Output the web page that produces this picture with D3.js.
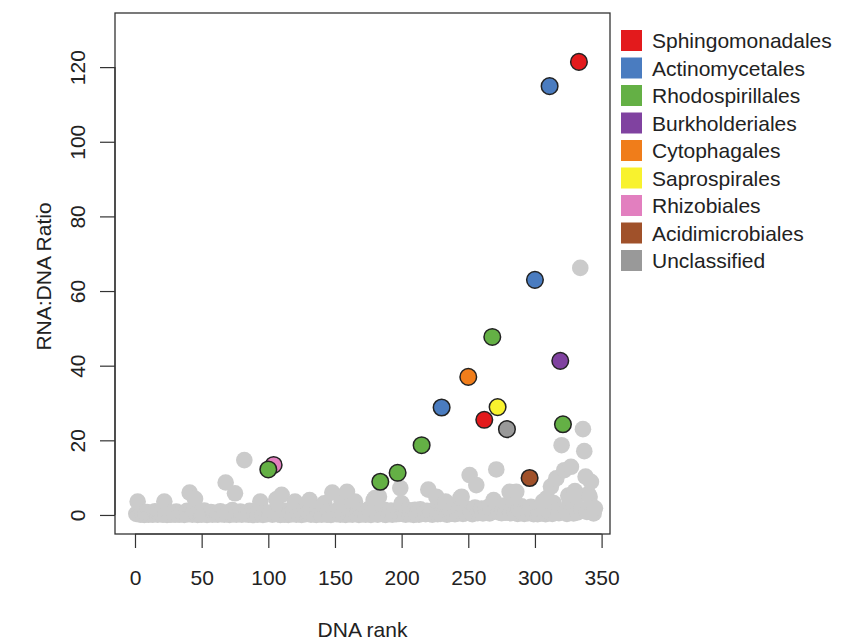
<!DOCTYPE html>
<html>
<head>
<meta charset="utf-8">
<script src="https://cdn.jsdelivr.net/npm/d3@7"></script>
<style>
  html, body { margin: 0; padding: 0; background: #fff; }
  svg text { font-family: "Liberation Sans", Arial, Helvetica, sans-serif; fill: #222; }
</style>
</head>
<body>
<svg id="chart" width="850" height="641"></svg>
<script>
// Legend orders and their colours
const orders = ["Sphingomonadales", "Actinomycetales", "Rhodospirillales", "Burkholderiales",
  "Cytophagales", "Saprospirales", "Rhizobiales", "Acidimicrobiales", "Unclassified"];
const orderColors = ["#e31a1c", "#4a7cc0", "#64b045", "#8042a0",
  "#f07d1a", "#f8f22e", "#e27fbf", "#a0512a", "#999999"];

// Highlighted OTUs: DNA rank, RNA:DNA ratio, order
const topRank  = [104, 100, 184, 197, 215, 230, 250, 262, 268, 272, 279, 296, 300, 311, 319, 321, 333];
const topRatio = [13.4, 12.2, 8.9, 11.3, 18.7, 28.8, 37.0, 25.5, 47.7, 28.9, 23.0, 9.9, 63.0, 114.9, 41.3, 24.3, 121.4];
const topOrder = ["Rhizobiales", "Rhodospirillales", "Rhodospirillales", "Rhodospirillales", "Rhodospirillales",
  "Actinomycetales", "Cytophagales", "Sphingomonadales", "Rhodospirillales", "Saprospirales", "Unclassified",
  "Acidimicrobiales", "Actinomycetales", "Actinomycetales", "Burkholderiales", "Rhodospirillales", "Sphingomonadales"];

// Remaining OTUs: RNA:DNA ratio for DNA ranks 1..345 (null where highlighted above)
const otherRatio = [
  0.3, 3.6, 0.5, 0.1, 0.6, 0.2, 0.0, 0.4, 0.8, 0.1, 0.3, 0.5, 0.1, 0.2, 1.0, 0.3, 0.1, 0.4, 0.6, 0.2,
  0.1, 3.6, 0.4, 0.0, 0.7, 0.2, 0.1, 0.5, 0.3, 0.1, 0.9, 0.3, 0.1, 0.2, 0.5, 0.4, 0.0, 0.3, 1.1, 0.2,
  6.0, 0.5, 0.1, 0.8, 4.3, 0.3, 0.0, 0.4, 0.6, 0.1, 0.3, 1.2, 0.2, 0.0, 0.5, 0.3, 0.8, 0.1, 0.4, 0.2,
  0.6, 0.1, 0.3, 1.0, 0.2, 0.5, 0.1, 8.7, 0.3, 0.7, 0.0, 0.4, 1.3, 0.2, 5.8, 0.1, 0.5, 0.3, 0.9, 0.1,
  0.3, 14.7, 0.2, 0.6, 0.1, 1.1, 0.4, 0.0, 0.5, 0.7, 0.2, 0.1, 1.0, 3.6, 0.3, 0.0, 0.5, 0.3, 0.2, null,
  0.4, 0.7, 0.1, null, 0.3, 4.2, 0.2, 0.8, 0.0, 5.4, 0.5, 0.1, 1.1, 0.3, 0.0, 0.6, 0.4, 0.2, 1.2, 3.6,
  0.1, 0.5, 0.3, 0.9, 0.0, 0.3, 1.0, 0.2, 0.4, 0.6, 4.0, 0.1, 0.4, 0.8, 0.2, 0.0, 1.2, 0.5, 0.3, 0.1,
  0.7, 3.1, 0.3, 0.1, 1.0, 0.4, 0.0, 6.0, 0.3, 0.6, 0.2, 1.3, 0.5, 0.1, 3.6, 0.3, 0.7, 0.0, 6.2, 0.4,
  0.2, 0.9, 0.1, 0.4, 3.6, 0.3, 0.6, 0.0, 1.1, 0.3, 0.2, 0.8, 0.1, 0.5, 1.5, 0.3, 0.0, 0.7, 4.0, 4.5,
  0.4, 0.1, 4.9, null, 0.8, 0.2, 1.4, 0.0, 0.5, 0.6, 0.3, 1.2, 0.1, 0.4, 0.9, 0.2, null, 0.3, 7.2, 3.1,
  0.3, 0.9, 0.1, 0.5, 1.3, 0.2, 0.7, 0.4, 0.0, 1.4, 0.3, 0.6, 0.1, 1.5, null, 0.4, 1.0, 0.2, 1.1, 6.8,
  0.3, 0.7, 0.1, 1.3, 0.4, 4.9, 0.2, 0.9, 0.3, null, 1.5, 0.5, 3.6, 0.1, 0.8, 0.3, 1.2, 0.4, 1.6, 0.2,
  1.0, 0.4, 1.4, 4.5, 4.9, 0.3, 1.1, 0.5, 1.7, null, 10.7, 0.8, 0.2, 1.4, 2.0, 8.0, 0.5, 1.2, 0.6, 1.7,
  0.4, null, 1.5, 0.8, 2.1, 0.4, 1.5, null, 4.0, 1.1, 12.2, null, 0.7, 1.9, 0.5, 1.3, 2.5, 0.6, null, 1.8,
  6.2, 0.5, 1.3, 2.2, 0.8, 6.2, 0.3, 1.6, 1.0, 2.3, 0.6, 0.3, 1.7, 1.1, 0.5, null, 2.2, 0.9, 0.2, null,
  1.3, 0.2, 0.8, 2.2, 0.4, 3.6, 0.6, 0.2, 4.5, 1.0, null, 7.6, 0.3, 3.2, 0.7, 9.8, 1.2, 0.5, null, 18.7,
  null, 12.0, 0.9, 0.3, 5.2, 3.2, 12.9, 1.3, 0.4, 6.4, 4.9, 0.7, null, 66.2, 1.5, 23.0, 17.1, 10.3, 0.8, 5.6,
  4.9, 8.9, 2.2, 0.4, 1.8
];

const xTicks = [0, 50, 100, 150, 200, 250, 300, 350];
const yTicks = [0, 20, 40, 60, 80, 100, 120];

const svg = d3.select("#chart");
const box = { left: 115, right: 610, top: 13, bottom: 534 };

const x = d3.scaleLinear().domain([-15, 356.3]).range([box.left, box.right]);
const y = d3.scaleLinear().domain([-5.1, 134.5]).range([box.bottom, box.top]);
const color = d3.scaleOrdinal().domain(orders).range(orderColors);

// background OTUs
const others = otherRatio.map((v, i) => ({ rank: i + 1, ratio: v })).filter(d => d.ratio !== null);
svg.append("g").selectAll("circle").data(others).join("circle")
  .attr("cx", d => x(d.rank)).attr("cy", d => y(d.ratio)).attr("r", 8.3)
  .attr("fill", "#cbcbcb");

// highlighted OTUs
const tops = topRank.map((r, i) => ({ rank: r, ratio: topRatio[i], order: topOrder[i] }));
svg.append("g").selectAll("circle").data(tops).join("circle")
  .attr("cx", d => x(d.rank)).attr("cy", d => y(d.ratio)).attr("r", 8.3)
  .attr("fill", d => color(d.order))
  .attr("stroke", "#222").attr("stroke-width", 1.5);

// frame
svg.append("rect")
  .attr("x", box.left).attr("y", box.top)
  .attr("width", box.right - box.left).attr("height", box.bottom - box.top)
  .attr("fill", "none").attr("stroke", "#333").attr("stroke-width", 1.3);

// x axis
const xAxis = svg.append("g").attr("transform", `translate(0,${box.bottom})`)
  .call(d3.axisBottom(x).tickValues(xTicks).tickSize(14).tickPadding(22).tickFormat(d3.format("d")));
xAxis.select(".domain").attr("d", `M${x(0)},0H${x(350)}`).attr("stroke", "#333").attr("stroke-width", 1.2);
xAxis.selectAll(".tick line").attr("stroke", "#333").attr("stroke-width", 1.2);
xAxis.selectAll(".tick text").attr("font-size", 21).attr("fill", "#222")
  .attr("font-family", "Liberation Sans, Arial, sans-serif");

// y axis
const yAxis = svg.append("g").attr("transform", `translate(${box.left},0)`)
  .call(d3.axisLeft(y).tickValues(yTicks).tickSize(15).tickFormat(d3.format("d")));
yAxis.select(".domain").attr("d", `M0,${y(0)}V${y(120)}`).attr("stroke", "#333").attr("stroke-width", 1.2);
yAxis.selectAll(".tick line").attr("stroke", "#333").attr("stroke-width", 1.2);
yAxis.selectAll(".tick text")
  .attr("font-size", 21).attr("fill", "#222")
  .attr("font-family", "Liberation Sans, Arial, sans-serif")
  .attr("x", null).attr("dy", null)
  .attr("text-anchor", "middle")
  .attr("transform", `translate(${85 - box.left},0) rotate(-90)`);

// axis titles, centred on the plot frame
svg.append("text").attr("x", (box.left + box.right) / 2).attr("y", 637)
  .attr("text-anchor", "middle").attr("font-size", 21).text("DNA rank");
svg.append("text").attr("transform", `translate(51,${(box.top + box.bottom) / 2 + 3}) rotate(-90)`)
  .attr("text-anchor", "middle").attr("font-size", 21).text("RNA:DNA Ratio");

// legend
const legend = svg.append("g").selectAll("g").data(orders).join("g")
  .attr("transform", (d, i) => `translate(621,${30 + i * 27.5})`);
legend.append("rect").attr("width", 21).attr("height", 21).attr("fill", d => color(d));
legend.append("text").attr("x", 31).attr("y", 10.5).attr("dy", "0.36em")
  .attr("font-size", 21).text(d => d);
</script>
</body>
</html>
